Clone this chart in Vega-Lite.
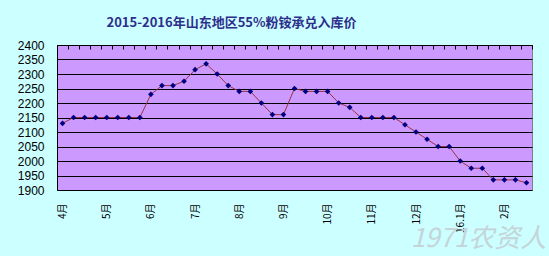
{
  "$schema": "https://vega.github.io/schema/vega-lite/v6.json",
  "width": 475,
  "height": 145,
  "autosize": {"type": "none"},
  "padding": {"left": 57, "top": 45, "right": 17, "bottom": 66},
  "background": "#CCFFFF",
  "title": {
    "text": "2015-2016年山东地区55%粉铵承兑入库价",
    "anchor": "middle",
    "dx": -63,
    "offset": 9,
    "font": "Noto Sans CJK SC",
    "fontSize": 13,
    "fontWeight": "bold",
    "color": "#2E2E8C"
  },
  "config": {
    "view": {"fill": "#CC99FF", "stroke": "#808080", "strokeWidth": 1},
    "axis": {"labelFont": "Liberation Sans", "labelFontSize": 12, "labelColor": "#000000"}
  },
  "data": {
    "values": [
      {"i": 0, "price": 2130}, {"i": 1, "price": 2150}, {"i": 2, "price": 2150}, {"i": 3, "price": 2150},
      {"i": 4, "price": 2150}, {"i": 5, "price": 2150}, {"i": 6, "price": 2150}, {"i": 7, "price": 2150},
      {"i": 8, "price": 2230}, {"i": 9, "price": 2260}, {"i": 10, "price": 2260}, {"i": 11, "price": 2275},
      {"i": 12, "price": 2315}, {"i": 13, "price": 2335}, {"i": 14, "price": 2300}, {"i": 15, "price": 2260},
      {"i": 16, "price": 2240}, {"i": 17, "price": 2240}, {"i": 18, "price": 2200}, {"i": 19, "price": 2160},
      {"i": 20, "price": 2160}, {"i": 21, "price": 2250}, {"i": 22, "price": 2240}, {"i": 23, "price": 2240},
      {"i": 24, "price": 2240}, {"i": 25, "price": 2200}, {"i": 26, "price": 2185}, {"i": 27, "price": 2150},
      {"i": 28, "price": 2150}, {"i": 29, "price": 2150}, {"i": 30, "price": 2150}, {"i": 31, "price": 2125},
      {"i": 32, "price": 2100}, {"i": 33, "price": 2075}, {"i": 34, "price": 2050}, {"i": 35, "price": 2050},
      {"i": 36, "price": 2000}, {"i": 37, "price": 1975}, {"i": 38, "price": 1975}, {"i": 39, "price": 1935},
      {"i": 40, "price": 1935}, {"i": 41, "price": 1935}, {"i": 42, "price": 1925}
    ]
  },
  "encoding": {
    "y": {
      "field": "price",
      "type": "quantitative",
      "scale": {"domain": [1900, 2400], "nice": false, "zero": false},
      "axis": {
        "title": null,
        "format": "d",
        "values": [1900, 1950, 2000, 2050, 2100, 2150, 2200, 2250, 2300, 2350, 2400],
        "grid": true,
        "gridColor": "#000000",
        "gridOpacity": 1,
        "gridWidth": 1,
        "ticks": false,
        "labelPadding": 13,
        "domain": true,
        "domainColor": "#000000",
        "labelFlush": false
      }
    }
  },
  "layer": [
    {
      "mark": {"type": "line", "color": "#993344", "strokeWidth": 1},
      "encoding": {
        "x": {
          "field": "i",
          "type": "quantitative",
          "scale": {"domain": [-0.5, 42.5], "nice": false, "zero": false},
          "axis": {
            "title": "1971农资人",
            "titleFont": "Noto Sans CJK SC",
            "titleFontSize": 26,
            "titleFontWeight": "normal",
            "titleFontStyle": "italic",
            "titleColor": "#C4D4D8",
            "titleAnchor": null,
            "titleAlign": "center",
            "titleBaseline": "middle",
            "titleX": 421,
            "titleY": 48,
            "values": [0, 4, 8, 12, 16, 20, 24, 28, 32, 36, 40],
            "labelExpr": "['4月','5月','6月','7月','8月','9月','10月','11月','12月','16.1月','2月'][datum.value / 4]",
            "labelAngle": -90,
            "labelAlign": "right",
            "labelBaseline": "middle",
            "labelPadding": 13,
            "labelFont": "Noto Sans CJK SC",
            "labelFontSize": 10,
            "ticks": false,
            "domain": false,
            "grid": false,
            "labelFlush": false
          }
        }
      }
    },
    {
      "mark": {"type": "point", "shape": "diamond", "filled": true, "color": "#000080", "size": 32, "opacity": 1},
      "encoding": {
        "x": {
          "field": "i",
          "type": "quantitative",
          "axis": {
            "title": null,
            "values": [-0.5, 0.5, 1.5, 2.5, 3.5, 4.5, 5.5, 6.5, 7.5, 8.5, 9.5, 10.5, 11.5, 12.5, 13.5, 14.5, 15.5, 16.5, 17.5, 18.5, 19.5, 20.5, 21.5, 22.5, 23.5, 24.5, 25.5, 26.5, 27.5, 28.5, 29.5, 30.5, 31.5, 32.5, 33.5, 34.5, 35.5, 36.5, 37.5, 38.5, 39.5, 40.5, 41.5, 42.5],
            "labels": false,
            "ticks": true,
            "tickSize": -4,
            "tickColor": "#000000",
            "domain": true,
            "domainColor": "#000000",
            "grid": false
          }
        }
      }
    }
  ],
  "resolve": {"axis": {"x": "independent"}}
}
